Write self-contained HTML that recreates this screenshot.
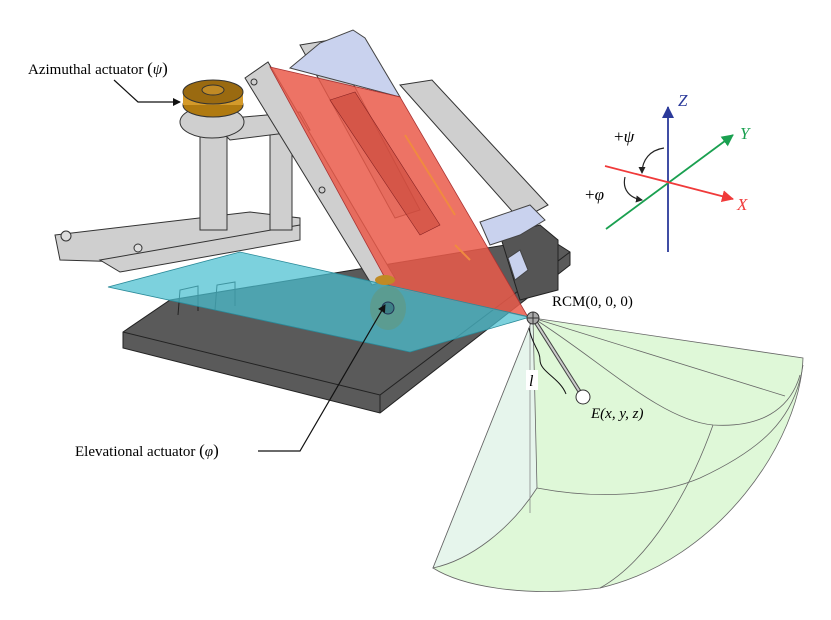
<!DOCTYPE html>
<html><head><meta charset="utf-8"><style>
html,body{margin:0;padding:0;background:#fff;}
svg{display:block}
text{font-family:"Liberation Serif",serif;}
</style></head><body>
<svg width="831" height="620" viewBox="0 0 831 620" xmlns="http://www.w3.org/2000/svg">
<defs>
<marker id="ah" markerWidth="8" markerHeight="8" refX="7" refY="4" orient="auto" markerUnits="userSpaceOnUse"><path d="M0,0 L8,4 L0,8 z" fill="#111"/></marker>
<marker id="ab" markerWidth="12" markerHeight="12" refX="11" refY="6" orient="auto" markerUnits="userSpaceOnUse"><path d="M0,0 L12,6 L0,12 z" fill="#2b3a9a"/></marker>
<marker id="ag" markerWidth="12" markerHeight="12" refX="11" refY="6" orient="auto" markerUnits="userSpaceOnUse"><path d="M0,0 L12,6 L0,12 z" fill="#1aa050"/></marker>
<marker id="ar" markerWidth="12" markerHeight="12" refX="11" refY="6" orient="auto" markerUnits="userSpaceOnUse"><path d="M0,0 L12,6 L0,12 z" fill="#f03a3a"/></marker>
<marker id="as" markerWidth="7" markerHeight="7" refX="6" refY="3.5" orient="auto" markerUnits="userSpaceOnUse"><path d="M0,0 L7,3.5 L0,7 z" fill="#222"/></marker>
</defs>

<path d="M533,318 L803,358 C800,440 720,560 600,588 C520,598 460,585 433,568 Z" fill="#dff8d8" stroke="#666" stroke-width="0.8"/>
<path d="M533,318 L537,488 C510,530 470,560 433,568 Z" fill="#e6f5ec" stroke="#666" stroke-width="0.8"/>
<path d="M537,488 C600,500 660,495 700,478 C760,450 795,420 803,365" fill="none" stroke="#666" stroke-width="0.8"/>
<path d="M533,318 C600,360 660,420 713,425 C760,428 790,410 800,375" fill="none" stroke="#666" stroke-width="0.8"/>
<path d="M533,318 L785,396" fill="none" stroke="#666" stroke-width="0.8"/>
<path d="M713,425 C690,490 650,560 600,588" fill="none" stroke="#666" stroke-width="0.8"/>
<path d="M530,322 L530,513" fill="none" stroke="#888" stroke-width="0.8"/>

<polygon points="123,332 170,300 548,238 570,252 570,265 380,413 123,348" fill="#5a5a5a" stroke="#222" stroke-width="1"/>
<polyline points="123,332 380,395 570,252" fill="none" stroke="#222" stroke-width="1"/>
<line x1="380" y1="395" x2="380" y2="413" stroke="#222"/>
<polygon points="500,235 540,225 558,240 558,290 520,300" fill="#555" stroke="#222"/>
<path d="M178,315 l2,-25 l18,-4 l0,25 M215,310 l2,-25 l18,-3 l0,24" fill="none" stroke="#222"/>

<g fill="#cfcfcf" stroke="#333" stroke-width="1">
<polygon points="55,235 250,212 300,218 300,236 130,262 60,260"/>
<polygon points="100,260 300,225 300,240 120,272"/>
<rect x="200" y="125" width="27" height="105"/>
<rect x="270" y="130" width="22" height="100"/>
<polygon points="210,120 300,112 310,130 230,140"/>
<ellipse cx="212" cy="122" rx="32" ry="16"/>
<polygon points="300,45 330,40 420,210 395,218"/>
<polygon points="400,85 432,80 548,205 520,220"/>
<polygon points="245,78 268,62 395,278 372,285"/>
</g>
<circle cx="254" cy="82" r="3" fill="none" stroke="#333"/>
<circle cx="322" cy="190" r="3" fill="none" stroke="#333"/>
<circle cx="66" cy="236" r="5" fill="#ddd" stroke="#333"/>
<circle cx="138" cy="248" r="4" fill="#ddd" stroke="#333"/>

<ellipse cx="213" cy="105" rx="30" ry="12" fill="#b07a10" stroke="#333"/>
<rect x="183" y="92" width="60" height="13" fill="#d49a2a"/>
<ellipse cx="213" cy="92" rx="30" ry="12" fill="#9a6a10" stroke="#333"/>
<ellipse cx="213" cy="90" rx="11" ry="5" fill="#c08a25" stroke="#333"/>

<polygon points="290,68 320,43 353,30 365,38 400,97" fill="#c9d2ee" stroke="#444" stroke-width="1"/>
<polygon points="480,222 530,205 545,220 520,235 490,245" fill="#c9d2ee" stroke="#444"/>
<polygon points="508,258 520,250 528,270 515,280" fill="#c9d2ee" stroke="#444"/>

<polygon points="270,67 400,97 528,317 390,287" fill="#ea5a4a" fill-opacity="0.85" stroke="#a33" stroke-width="0.8"/>
<polygon points="330,100 355,92 440,225 420,235" fill="#c9473a" fill-opacity="0.6" stroke="#822" stroke-width="0.6"/>
<line x1="405" y1="135" x2="455" y2="215" stroke="#f08a40" stroke-width="2"/>
<line x1="455" y1="245" x2="470" y2="260" stroke="#f08a40" stroke-width="2"/>

<polygon points="108,287 240,252 530,317 410,352" fill="#49bfd0" fill-opacity="0.72" stroke="#2a8a99" stroke-width="0.8"/>
<ellipse cx="388" cy="308" rx="18" ry="22" fill="#5f9a8a" fill-opacity="0.8"/>
<circle cx="388" cy="308" r="6" fill="#3d7f86" stroke="#235"/>
<ellipse cx="385" cy="280" rx="10" ry="5" fill="#c08a25"/>

<line x1="533" y1="318" x2="583" y2="397" stroke="#444" stroke-width="4"/>
<line x1="533" y1="318" x2="583" y2="397" stroke="#ccc" stroke-width="2"/>
<circle cx="583" cy="397" r="7" fill="#fff" stroke="#333"/>
<circle cx="533" cy="318" r="6" fill="#aaa" stroke="#333"/>
<path d="M527,318 h12 M533,312 v12" stroke="#333"/>
<path d="M529,328 C532,345 540,350 540,360 C540,372 560,378 566,394" fill="none" stroke="#111" stroke-width="1"/>
<rect x="526" y="370" width="12" height="20" fill="#fff"/>
<text x="529" y="386" font-size="16" font-style="italic">l</text>

<text x="552" y="306" font-size="15">RCM(0, 0, 0)</text>
<text x="591" y="418" font-size="15" font-style="italic">E(x, y, z)</text>

<text x="28" y="74" font-size="15">Azimuthal actuator <tspan font-size="17">(</tspan><tspan font-style="italic">ψ</tspan><tspan font-size="17">)</tspan></text>
<polyline points="114,80 138,102 180,102" fill="none" stroke="#111" stroke-width="1.2" marker-end="url(#ah)"/>
<text x="75" y="456" font-size="15">Elevational actuator <tspan font-size="17">(</tspan><tspan font-style="italic">φ</tspan><tspan font-size="17">)</tspan></text>
<polyline points="258,451 300,451 385,305" fill="none" stroke="#111" stroke-width="1.2" marker-end="url(#ah)"/>

<line x1="668" y1="252" x2="668" y2="107" stroke="#2b3a9a" stroke-width="1.8" marker-end="url(#ab)"/>
<line x1="606" y1="229" x2="733" y2="135" stroke="#1aa050" stroke-width="1.8" marker-end="url(#ag)"/>
<line x1="605" y1="166" x2="733" y2="199" stroke="#f03a3a" stroke-width="1.8" marker-end="url(#ar)"/>
<text x="678" y="106" font-size="17" font-style="italic" fill="#2b3a9a">Z</text>
<text x="740" y="139" font-size="17" font-style="italic" fill="#1aa050">Y</text>
<text x="737" y="210" font-size="17" font-style="italic" fill="#f03a3a">X</text>
<text x="614" y="142" font-size="17">+<tspan font-style="italic">ψ</tspan></text>
<text x="585" y="200" font-size="17">+<tspan font-style="italic">φ</tspan></text>
<path d="M664,148 C650,150 642,160 642,173" fill="none" stroke="#222" stroke-width="1.2" marker-end="url(#as)"/>
<path d="M625,177 C622,190 630,198 642,200" fill="none" stroke="#222" stroke-width="1.2" marker-end="url(#as)"/>
</svg>
</body></html>
